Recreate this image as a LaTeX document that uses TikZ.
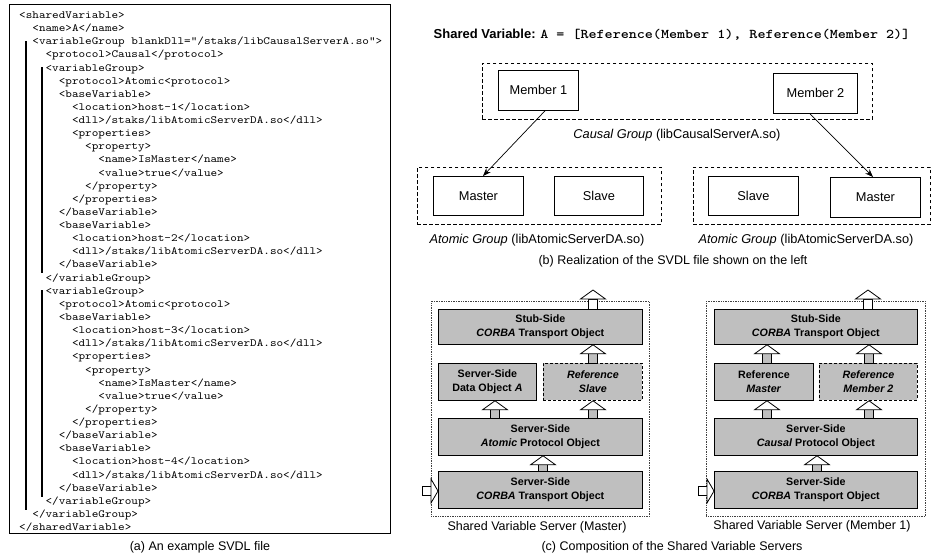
\documentclass[tikz,border=0pt]{standalone}
\usepackage{fontspec}
\setmainfont{Liberation Sans}
\newfontfamily\codefont[FakeStretch=1.143]{lmmono10-regular.otf}
\newfontfamily\titlemono[FakeStretch=1.143]{lmmonolt10-bold.otf}
\usetikzlibrary{calc,arrows.meta}
\newcommand{\blkup}[3][black!25]{%
  \path (#2) coordinate (ba) (#3) coordinate (bt);
  \filldraw[blk,fill=#1] ($(ba)+(-4.5,0)$) rectangle ($(bt)+(4.5,9)$);
  \filldraw[blk,fill=white] ($(bt)+(-12.5,9)$) -- (bt) -- ($(bt)+(12.5,9)$) -- cycle;}
\newcommand{\blkright}[2]{%
  \path (#1) coordinate (ba) (#2) coordinate (bt);
  \filldraw[blk,fill=white] ($(ba)+(0,-4.5)$) rectangle ($(bt)+(-7,4.5)$);
  \filldraw[blk,fill=white] ($(bt)+(-7,-12)$) -- (bt) -- ($(bt)+(-7,12)$) -- cycle;}
\begin{document}
\begin{tikzpicture}[x=1pt,y=-1pt,
  code/.style={anchor=base west,inner sep=0pt,font=\codefont\fontsize{11}{13}\selectfont},
  bar/.style={line width=1.8pt},
  lbl/.style={inner sep=0pt,font=\fontsize{12.8}{15}\selectfont},
  captxt/.style={inner sep=0pt,font=\fontsize{12.5}{15}\selectfont},
  sbox/.style={draw,line width=0.8pt,anchor=north west,inner sep=0pt,font=\fontsize{12.8}{15}\selectfont},
  grp/.style={draw,line width=0.8pt,dash pattern=on 3.5pt off 2.5pt,anchor=north west,inner sep=0pt},
  gbox/.style={draw,fill=black!25,line width=0.8pt,anchor=north west,inner sep=0pt,align=center,
    font=\bfseries\fontsize{10.7}{13.5}\selectfont},
  rbox/.style={gbox,dash pattern=on 3pt off 2pt},
  outer/.style={draw=black!75,line width=0.7pt,densely dotted,anchor=north west,inner sep=0pt},
  blk/.style={draw=black,line width=0.8pt,line join=miter},
  lnk/.style={line width=0.7pt,-{Stealth[length=8pt,width=6pt]}}
]
\fill[white] (0,0) rectangle (932,558);
\useasboundingbox (0,0) rectangle (932,558);

% ---------------- (a) code panel
\node[draw,line width=1pt,anchor=north west,inner sep=0pt,minimum width=381,minimum height=529] (codeframe) at (9,4) {};
\foreach \i/\k/\t in {
 1/0/{<sharedVariable>},
 2/2/{<name>A</name>},
 3/2/{<variableGroup blankDll="/staks/libCausalServerA.so">},
 4/4/{<protocol>Causal</protocol>},
 5/4/{<variableGroup>},
 6/6/{<protocol>Atomic<protocol>},
 7/6/{<baseVariable>},
 8/8/{<location>host-1</location>},
 9/8/{<dll>/staks/libAtomicServerDA.so</dll>},
 10/8/{<properties>},
 11/10/{<property>},
 12/12/{<name>IsMaster</name>},
 13/12/{<value>true</value>},
 14/10/{</property>},
 15/8/{</properties>},
 16/6/{</baseVariable>},
 17/6/{<baseVariable>},
 18/8/{<location>host-2</location>},
 19/8/{<dll>/staks/libAtomicServerDA.so</dll>},
 20/6/{</baseVariable>},
 21/4/{</variableGroup>},
 22/4/{<variableGroup>},
 23/6/{<protocol>Atomic<protocol>},
 24/6/{<baseVariable>},
 25/8/{<location>host-3</location>},
 26/8/{<dll>/staks/libAtomicServerDA.so</dll>},
 27/8/{<properties>},
 28/10/{<property>},
 29/12/{<name>IsMaster</name>},
 30/12/{<value>true</value>},
 31/10/{</property>},
 32/8/{</properties>},
 33/6/{</baseVariable>},
 34/6/{<baseVariable>},
 35/8/{<location>host-4</location>},
 36/8/{<dll>/staks/libAtomicServerDA.so</dll>},
 37/6/{</baseVariable>},
 38/4/{</variableGroup>},
 39/2/{</variableGroup>},
 40/0/{</sharedVariable>}}
 {\node[code] (l\i) at ({19+6.6*\k},{18.5+13.13*(\i-1)}) {\t};}
\draw[bar] (26,41) -- (26,510);
\draw[bar] (42,67) -- (42,273);
\draw[bar] (42,290) -- (42,497);
\node[captxt] (capa) at (200,547) {(a) An example SVDL file};

% ---------------- (b) realization
\node[inner sep=0pt] (title) at (672,35)
  {\fontsize{13}{15}\selectfont\bfseries Shared Variable: {\titlemono\fontsize{13.4}{15}\selectfont A = [Reference(Member 1), Reference(Member 2)]}};
\node[grp,minimum width=390,minimum height=56] (causal) at (482,63) {};
\node[sbox,minimum width=80,minimum height=40] (m1) at (498,70) {Member 1};
\node[sbox,minimum width=84,minimum height=40] (m2) at (773,73) {Member 2};
\node[lbl] (causallbl) at (677,135) {\textit{Causal Group} (libCausalServerA.so)};
\node[grp,minimum width=244,minimum height=57] (atomL) at (417,167) {};
\node[sbox,minimum width=90,minimum height=39] (mL) at (433,176) {Master};
\node[sbox,minimum width=89,minimum height=39] (sL) at (554,176) {Slave};
\node[grp,minimum width=237,minimum height=57] (atomR) at (693,167) {};
\node[sbox,minimum width=90,minimum height=39] (sR) at (708,176) {Slave};
\node[sbox,minimum width=90,minimum height=40] (mR) at (830,177) {Master};
\node[lbl] (atomLlbl) at (537,240) {\textit{Atomic Group} (libAtomicServerDA.so)};
\node[lbl] (atomRlbl) at (806,240) {\textit{Atomic Group} (libAtomicServerDA.so)};
\node[captxt] (capb) at (673,261) {(b) Realization of the SVDL file shown on the left};
\draw[lnk] (545,0 |- m1.south) -- (483,0 |- mL.north);
\draw[lnk] (810,0 |- m2.south) -- (873,0 |- mR.north);

% ---------------- (c) composition, left (Master)
\node[outer,minimum width=218,minimum height=215] (frL) at (431,301) {};
\node[gbox,minimum width=204,minimum height=35] (stubL) at (438,309) {Stub-Side\\\textit{CORBA} Transport Object};
\node[gbox,minimum width=98,minimum height=37] (dataL) at (438,363) {Server-Side\\Data Object \textit{A}};
\node[rbox,minimum width=99,minimum height=37] (refL) at (543,363) {\textit{Reference}\\\textit{Slave}};
\node[gbox,minimum width=204,minimum height=37] (atmL) at (438,418) {Server-Side\\\textit{Atomic} Protocol Object};
\node[gbox,minimum width=204,minimum height=37] (corL) at (438,471) {Server-Side\\\textit{CORBA} Transport Object};
\coordinate (outL) at (593,290);
\coordinate (inL) at (422,491);
\blkup[white]{593,0 |- stubL.north}{outL}
\blkup{593,0 |- refL.north}{593,0 |- stubL.south}
\blkup{593,0 |- atmL.north}{593,0 |- refL.south}
\blkup{495,0 |- atmL.north}{495,0 |- dataL.south}
\blkup{543,0 |- corL.north}{543,0 |- atmL.south}
\blkright{inL}{corL.west |- inL}
\node[captxt] (capcL) at (537,527) {Shared Variable Server (Master)};

% ---------------- (c) composition, right (Member 1)
\node[outer,minimum width=219,minimum height=215] (frR) at (706,301) {};
\node[gbox,minimum width=203,minimum height=35] (stubR) at (714,309) {Stub-Side\\\textit{CORBA} Transport Object};
\node[gbox,minimum width=99,minimum height=37] (refmR) at (714,363) {Reference\\\textit{Master}};
\node[rbox,minimum width=98,minimum height=37] (ref2R) at (819,363) {\textit{Reference}\\\textit{Member 2}};
\node[gbox,minimum width=203,minimum height=37] (cauR) at (714,418) {Server-Side\\\textit{Causal} Protocol Object};
\node[gbox,minimum width=203,minimum height=37] (corR) at (714,471) {Server-Side\\\textit{CORBA} Transport Object};
\coordinate (outR) at (868,290);
\coordinate (inR) at (698,491);
\blkup[white]{868,0 |- stubR.north}{outR}
\blkup{869,0 |- ref2R.north}{869,0 |- stubR.south}
\blkup{869,0 |- cauR.north}{869,0 |- ref2R.south}
\blkup{767,0 |- refmR.north}{767,0 |- stubR.south}
\blkup{767,0 |- cauR.north}{767,0 |- refmR.south}
\blkup{817,0 |- corR.north}{817,0 |- cauR.south}
\blkright{inR}{corR.west |- inR}
\node[captxt] (capcR) at (812,526) {Shared Variable Server (Member 1)};
\node[captxt] (capc) at (672,547) {(c) Composition of the Shared Variable Servers};
\end{tikzpicture}
\end{document}
